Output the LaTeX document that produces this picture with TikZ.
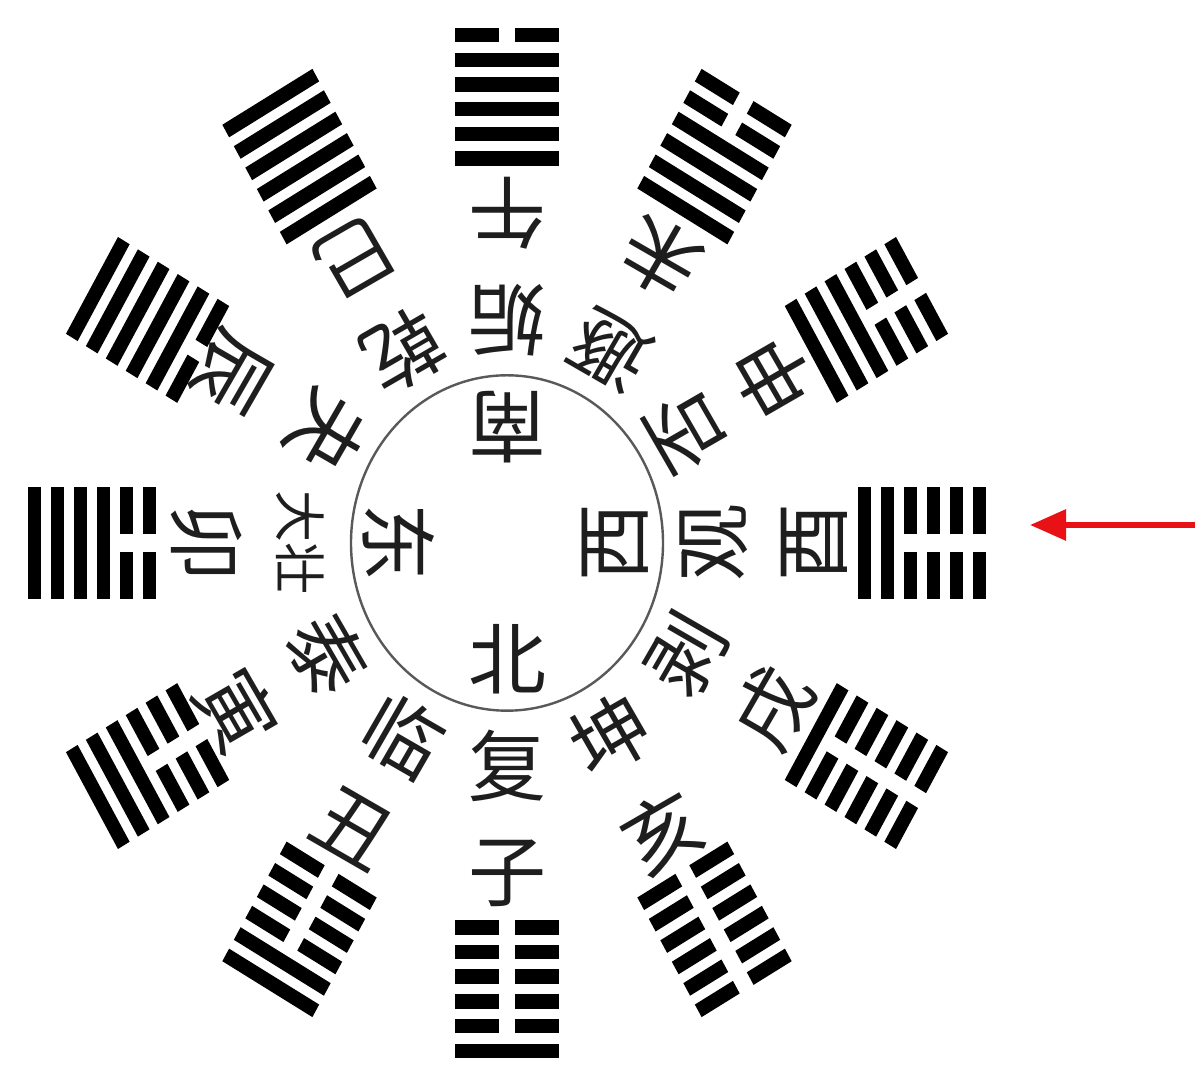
\documentclass[tikz,border=0pt]{standalone}
\usepackage{fontspec}
\newfontfamily\cjk{Noto Sans CJK SC}
\usetikzlibrary{arrows.meta}
\definecolor{arrred}{RGB}{232,18,22}
\definecolor{inkc}{RGB}{30,30,30}
\begin{document}
\begin{tikzpicture}[x=0.5pt,y=0.5pt,
  bar/.style={fill=black},
  lbl/.style={text=inkc, inner sep=0pt},
  ring/.style={draw=black!65, line width=1.2pt},
  pointer/.style={arrred, line width=3pt, -{Triangle[length=18pt,width=15pt]}}]
\useasboundingbox (0,0) rectangle (1200,1081);
\fill[white] (0,0) rectangle (1200,1081);
\begin{scope}[shift={(507,538)}, yscale=1.075]
  % inner circle
  \draw[ring] (0,0) circle (156);
  % cardinal directions
  \foreach \a/\t [count=\k] in {90/南, 0/西, 270/北, 180/东} {
    \node[lbl, font=\cjk\fontsize{39}{39}\selectfont, rotate=\a+90] (dir\k) at (\a:108) {\t};
  }
  % sectors
  \foreach \a/\pat/\nm/\br/\fs/\rb [count=\k] in {
      270/{1,0,0,0,0,0}/复/子/39/307,
      240/{1,1,0,0,0,0}/临/丑/39/307,
      210/{1,1,1,0,0,0}/泰/寅/39/312,
      180/{1,1,1,1,0,0}/大壮/卯/26/300,
      150/{1,1,1,1,1,0}/夬/辰/39/318,
      120/{1,1,1,1,1,1}/乾/巳/39/307,
      90/{0,1,1,1,1,1}/姤/午/39/307,
      60/{0,0,1,1,1,1}/遯/未/39/307,
      30/{0,0,0,1,1,1}/否/申/39/307,
      0/{0,0,0,0,1,1}/观/酉/39/307,
      -30/{0,0,0,0,0,1}/剥/戌/39/307,
      -60/{0,0,0,0,0,0}/坤/亥/39/310} {
    \node[lbl, font=\cjk\fontsize{\fs}{\fs}\selectfont, rotate=\a+90] (name\k) at (\a:207) {\nm};
    \node[lbl, font=\cjk\fontsize{39}{39}\selectfont, rotate=\a+90] (branch\k) at (\a:\rb) {\br};
    \begin{scope}[shift={(\a:415)}, rotate=\a+90]
      \foreach \v [count=\i] in \pat {
        \pgfmathsetmacro\yy{(\i-3.5)*23}
        \ifnum\v=1
          \fill[bar] (-52,{\yy-6.75}) rectangle (52,{\yy+6.75});
        \else
          \fill[bar] (-52,{\yy-6.75}) rectangle (-8,{\yy+6.75});
          \fill[bar] (8,{\yy-6.75}) rectangle (52,{\yy+6.75});
        \fi
      }
    \end{scope}
  }
\end{scope}
% red arrow
\coordinate (arrTail) at (1195,556);
\coordinate (arrTip) at (1030,556);
\draw[pointer] (arrTail) -- (arrTip);
\end{tikzpicture}
\end{document}
